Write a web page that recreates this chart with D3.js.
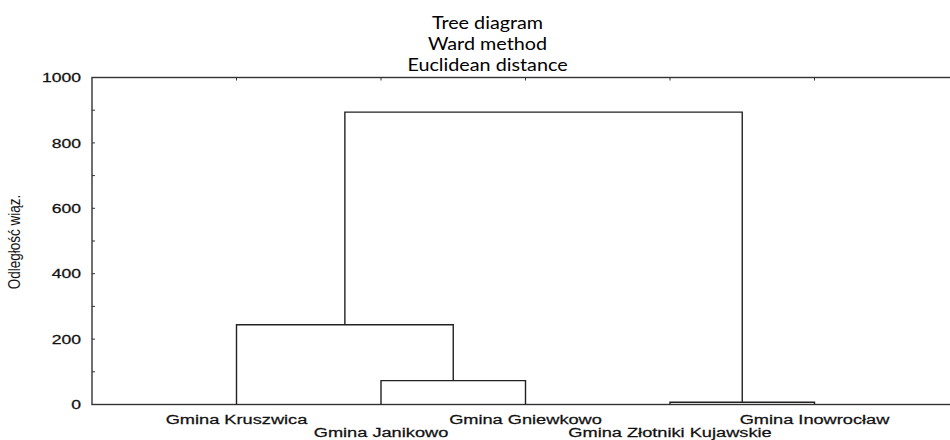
<!DOCTYPE html>
<html lang="pl">
<head>
    <meta charset="utf-8">
    <style>
        body { margin: 0; background: #fff; }
        svg { display: block; }
        .tick-label, .leaf-label, .y-title { font-family: "Liberation Sans", Arial, sans-serif; fill: #111; }
        .title { font-family: Lato, "Open Sans", sans-serif; fill: #000; }
    </style>
</head>
<body>
    <svg width="950" height="440"></svg>
    <script src="https://cdn.jsdelivr.net/npm/d3@7"></script>
    <script>
        // Data
        const leaves = ["Gmina Kruszwica", "Gmina Janikowo", "Gmina Gniewkowo", "Gmina Złotniki Kujawskie", "Gmina Inowrocław"];
        // Linkage: clusters 0..4 are leaves, each merge makes a new cluster 5, 6, ...
        const mergeLeft = [1, 3, 0, 7];
        const mergeRight = [2, 4, 5, 6];
        const mergeHeight = [73, 7, 244, 894];
        const yTicks = [0, 200, 400, 600, 800, 1000];
        const titleLines = ["Tree diagram", "Ward method", "Euclidean distance"];
        const yTitle = "Odległość wiąz.";

        const svg = d3.select("svg");
        const stretch = 1.35; // the original image is stretched horizontally

        const plotLeft = 92, plotRight = 959, plotTop = 77.5, plotBottom = 404.5;

        const x = d3.scalePoint().domain(leaves).range([plotLeft, plotRight]).padding(1);
        const y = d3.scaleLinear().domain([0, 1000]).range([plotBottom, plotTop]);

        // Title
        svg.append("g").selectAll("text")
            .data(titleLines)
            .join("text")
            .attr("class", "title")
            .attr("transform", (d, i) => `translate(487.5,${28.5 + i * 21}) scale(1.13,1)`)
            .attr("text-anchor", "middle")
            .attr("font-size", 17.5)
            .text(d => d);

        // Frame
        svg.append("rect")
            .attr("x", plotLeft).attr("y", plotTop)
            .attr("width", plotRight - plotLeft).attr("height", plotBottom - plotTop)
            .attr("fill", "none").attr("stroke", "#333").attr("stroke-width", 1.4);

        // Y axis ticks (inside) + labels
        const yAxis = svg.append("g").attr("transform", `translate(${plotLeft},0)`);
        yAxis.selectAll("line")
            .data(d3.range(0, 1001, 100))
            .join("line")
            .attr("x1", 0).attr("x2", 3)
            .attr("y1", d => y(d)).attr("y2", d => y(d))
            .attr("stroke", "#333");
        yAxis.selectAll("text")
            .data(yTicks)
            .join("text")
            .attr("class", "tick-label")
            .attr("transform", d => `translate(-11,${y(d)}) scale(${stretch},1)`)
            .attr("dy", "0.36em")
            .attr("text-anchor", "end")
            .attr("font-size", 13)
            .attr("stroke", "#111").attr("stroke-width", 0.25)
            .text(d => d);

        // Top axis ticks at leaf positions
        svg.append("g").selectAll("line")
            .data(leaves)
            .join("line")
            .attr("x1", d => x(d)).attr("x2", d => x(d))
            .attr("y1", plotTop).attr("y2", plotTop + 3)
            .attr("stroke", "#333");

        // Y title
        svg.append("text")
            .attr("class", "y-title")
            .attr("transform", `translate(20,242) scale(1.2,1) rotate(-90)`)
            .attr("text-anchor", "middle")
            .attr("font-size", 13.5)
            .text(yTitle);

        // Leaf labels, alternating rows
        svg.append("g").selectAll("text")
            .data(leaves)
            .join("text")
            .attr("class", "leaf-label")
            .attr("transform", (d, i) => `translate(${x(d)},${i % 2 ? 437 : 423.5}) scale(${stretch},1)`)
            .attr("text-anchor", "middle")
            .attr("font-size", 13.5)
            .attr("stroke", "#111").attr("stroke-width", 0.25)
            .text(d => d);

        // Dendrogram links
        const nodes = leaves.map(d => ({ x: x(d), h: 0 }));
        mergeLeft.forEach((l, i) => {
            const a = nodes[l], b = nodes[mergeRight[i]];
            nodes.push({ x: (a.x + b.x) / 2, h: mergeHeight[i], a, b });
        });
        const links = svg.append("g")
            .attr("fill", "none").attr("stroke", "#222").attr("stroke-width", 1.4);
        nodes.filter(n => n.a).forEach(n => {
            links.append("path")
                .attr("d", `M${n.a.x},${y(n.a.h)}V${y(n.h)}H${n.b.x}V${y(n.b.h)}`);
        });
    </script>
</body>
</html>
